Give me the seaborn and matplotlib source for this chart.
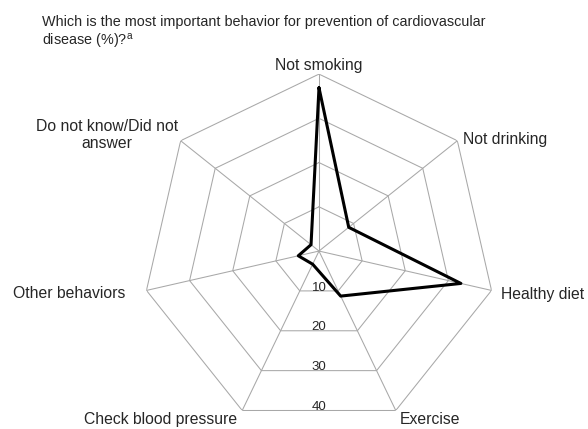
import numpy as np
import pandas as pd
import matplotlib
matplotlib.use("Agg")
import matplotlib.pyplot as plt
import seaborn as sns

# --- Data (percent of respondents) ---
categories = ["Not smoking", "Not drinking", "Healthy diet", "Exercise",
              "Check blood pressure", "Other behaviors", "Do not know/Did not\nanswer"]
values = [36.9, 8.6, 32.9, 11.3, 3.3, 4.8, 2.3]
ring_levels = [10, 20, 30, 40]
ring_labels = ["10", "20", "30", "40"]

title = ("Which is the most important behavior for prevention of cardiovascular\n"
         "disease (%)?$^{\\mathregular{a}}$")

# --- Style ---
sns.set_style("white")
plt.rcParams["font.family"] = ["Liberation Sans", "DejaVu Sans"]
plt.rcParams["mathtext.fontset"] = "custom"
plt.rcParams["mathtext.rm"] = "Liberation Sans"

n = len(categories)
angles = np.arange(n) * 2 * np.pi / n

fig = plt.figure(figsize=(5.88, 4.29), dpi=100)
ax = fig.add_axes([0.2415, 0.0023, 0.602, 0.825], projection="polar")
ax.set_theta_zero_location("N")
ax.set_theta_direction(-1)
ax.set_ylim(0, 40)
ax.grid(False)
ax.spines["polar"].set_visible(False)
ax.set_xticks([])
ax.set_yticks([])
ax.patch.set_alpha(0)

grid_color = "#a8a8a8"
# heptagon rings
for lvl in ring_levels:
    ax.plot(np.append(angles, angles[0]), [lvl] * (n + 1), color=grid_color, lw=0.75, zorder=1)
# spokes
for a in angles:
    ax.plot([a, a], [0, ring_levels[-1]], color=grid_color, lw=0.75, zorder=1)

# ring labels, sitting on the bottom edge of each ring
for lvl, lab in zip(ring_levels, ring_labels):
    ax.text(np.pi, lvl * np.cos(np.pi / n) + 0.6, lab, ha="center", va="bottom",
            fontsize=9.5, zorder=3)

# data line
df = pd.DataFrame({"theta": np.append(angles, angles[0]),
                   "value": values + [values[0]]})
sns.lineplot(data=df, x="theta", y="value", sort=False, color="black", lw=2.2,
             ax=ax, zorder=4, estimator=None)
ax.set_xlabel("")
ax.set_ylabel("")

# category labels
offsets = [(0, 1, "center", "bottom"),
           (4, 1, "left", "center"),
           (7, -3, "left", "center"),
           (3, -1, "left", "top"),
           (-4, -1, "right", "top"),
           (-15, -2, "right", "center"),
           (-2, 4, "right", "center")]
for a, lab, (dx, dy, ha, va) in zip(angles, categories, offsets):
    ax.annotate(lab, xy=(a, 40), xytext=(dx, dy), textcoords="offset points",
                ha=ha, va=va, fontsize=11.3, multialignment="center",
                annotation_clip=False)

fig.text(0.071, 0.965, title, ha="left", va="top", fontsize=10.4, linespacing=1.25)

fig.savefig("out.png", dpi=100)
